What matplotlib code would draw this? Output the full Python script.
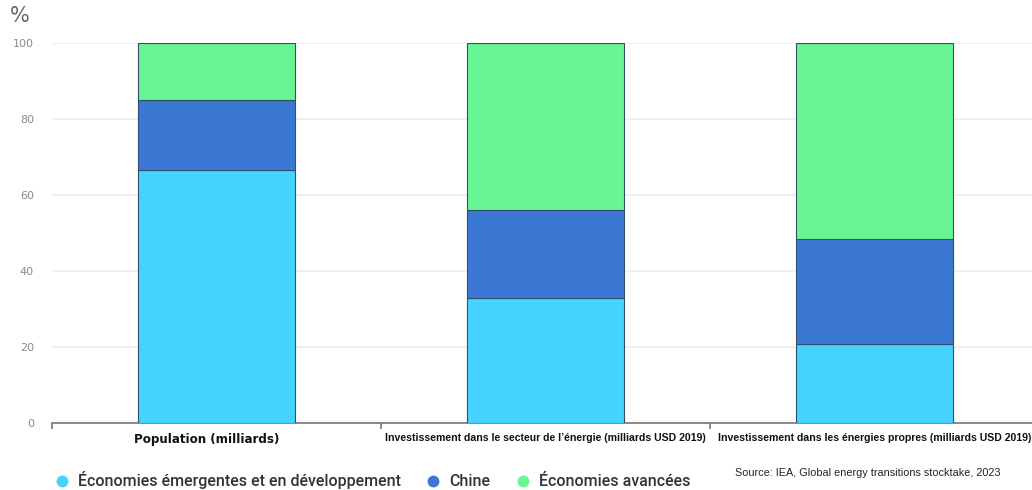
"""Stacked share chart: population vs energy investment by economy group."""

import matplotlib
matplotlib.use("Agg")
import matplotlib.pyplot as plt
from matplotlib.lines import Line2D


CATEGORIES = [
    "Population (milliards)",
    "Investissement dans le secteur de l\u2019\u00e9nergie (milliards USD 2019)",
    "Investissement dans les \u00e9nergies propres (milliards USD 2019)",
]
SERIES_NAMES = [
    "\u00c9conomies \u00e9mergentes et en d\u00e9veloppement",
    "Chine",
    "\u00c9conomies avanc\u00e9es",
]
EMERGING = [66.7, 33.0, 20.8]
CHINA = [18.2, 23.0, 27.6]
ADVANCED = [15.1, 44.0, 51.6]
Y_TICKS = [0, 20, 40, 60, 80, 100]
COLORS = ["#47D3FF", "#3B78D4", "#69F593"]


def main():
    fig = plt.figure(figsize=(10.32, 4.9), dpi=100)
    ax = fig.add_axes([0.0504, 0.1367, 0.9564, 0.7755])

    x = list(range(len(CATEGORIES)))
    bottom = [0.0] * len(CATEGORIES)
    for values, color in zip([EMERGING, CHINA, ADVANCED], COLORS):
        ax.bar(x, values, width=0.48, bottom=bottom, color=color,
               edgecolor="#2f4f6a", linewidth=0.8, zorder=3)
        bottom = [b + v for b, v in zip(bottom, values)]

    ax.set_xlim(-0.5, 2.5)
    ax.set_ylim(0, 100)
    ax.set_yticks(Y_TICKS)
    ax.set_yticklabels([str(t) for t in Y_TICKS], color="#8a8a8a", fontsize=8)
    ax.tick_params(axis="y", length=0, pad=13)
    ax.grid(axis="y", color="#eeeeee", linewidth=1.2, zorder=0)

    for side in ["top", "right", "left"]:
        ax.spines[side].set_visible(False)
    ax.spines["bottom"].set_color("#777777")
    ax.spines["bottom"].set_linewidth(1.2)

    # category dividers as ticks, labels placed separately
    ax.set_xticks([-0.5, 0.5, 1.5])
    ax.set_xticklabels([])
    ax.tick_params(axis="x", length=4, color="#777777", width=1.2)
    label_fonts = [("DejaVu Sans", 8.6), ("Liberation Sans", 7.6), ("Liberation Sans", 7.6)]
    label_shift = [-0.03, 0.0, 0.0]
    for i, (name, (family, size)) in enumerate(zip(CATEGORIES, label_fonts)):
        ax.text(i + label_shift[i], -2.6, name, ha="center", va="top", fontsize=size,
                fontweight="bold", family=family, color="#111111",
                transform=ax.transData, clip_on=False)

    fig.text(0.01, 0.968, "%", fontsize=15, color="#666666", va="center")

    handles = [Line2D([], [], marker="o", linestyle="", markersize=7.5,
                      markerfacecolor=c, markeredgecolor=c) for c in COLORS]
    fig.legend(handles, SERIES_NAMES, loc="center left",
               bbox_to_anchor=(0.038, 0.02), ncol=3, frameon=False,
               prop={"family": "Roboto", "size": 11.5, "weight": "medium"},
               labelcolor="#333333", handletextpad=0.0,
               columnspacing=1.05, borderaxespad=0)

    fig.text(0.969, 0.035, "Source: IEA, Global energy transitions stocktake, 2023",
             ha="right", va="center", fontsize=7.8, color="#222222",
             family=["Liberation Sans Narrow", "Liberation Sans"])

    fig.savefig("out.png", dpi=100)


if __name__ == "__main__":
    main()
